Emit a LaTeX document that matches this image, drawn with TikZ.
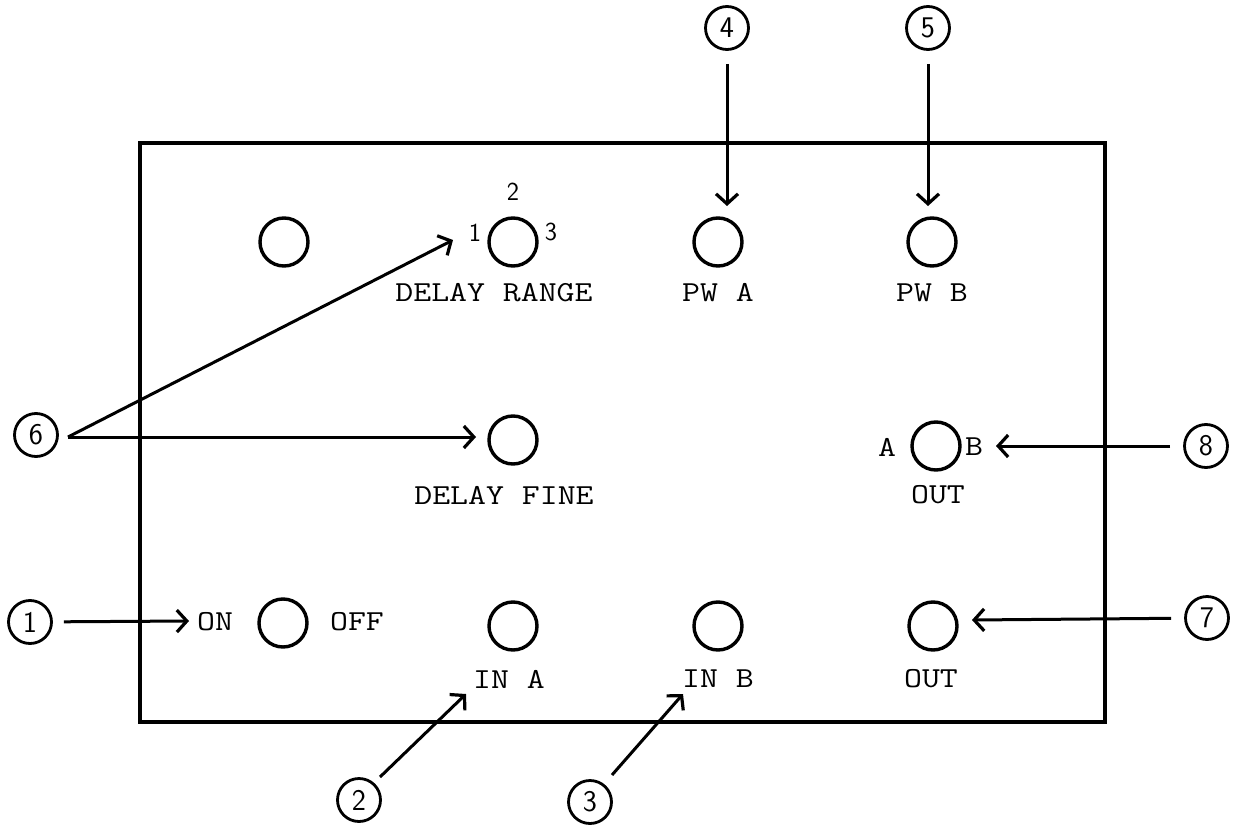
\documentclass[tikz,border=0pt]{standalone}
\usepackage{fontspec}
\usetikzlibrary{arrows.meta}
\newcommand{\lbl}[1]{\scalebox{1.2}[1]{#1}}
\begin{document}
\begin{tikzpicture}[x=1pt,y=-1pt,
 knob/.style={circle,draw,line width=3.4pt,minimum size=48pt,inner sep=0pt},
 callout/.style={circle,draw,line width=2.8pt,minimum size=43pt,inner sep=0pt,font=\sffamily\fontsize{30}{30}\selectfont},
 lab/.style={font=\ttfamily\fontsize{29}{29}\selectfont,inner sep=0pt},
 num/.style={font=\sffamily\fontsize{26}{26}\selectfont,inner sep=0pt},
 arr/.style={line width=3pt,-{Straight Barb[length=10pt,width=22pt,line width=3.2pt]}}]
\useasboundingbox (0,0) rectangle (1235,827);
% panel
\draw[line width=3.2pt] (140,143) rectangle (1105,722);
% knobs
\node[knob] (k0) at (284,242) {};
\node[knob] (kdr) at (513,242) {};
\node[knob] (kpa) at (718,242) {};
\node[knob] (kpb) at (932,242) {};
\node[knob] (kdf) at (513,440) {};
\node[knob] (kab) at (936,446) {};
\node[knob] (kon) at (283,623) {};
\node[knob] (kia) at (513,626) {};
\node[knob] (kib) at (718,626) {};
\node[knob] (kout) at (933,626) {};
% labels
\node[num] (n2) at (513,192) {2};
\node[num] (n1) at (475,233) {1};
\node[num] (n3) at (551,232) {3};
\node[lab] (ldr) at (494,293) {\lbl{DELAY RANGE}};
\node[lab] (lpa) at (718,293) {\lbl{PW A}};
\node[lab] (lpb) at (932,293) {\lbl{PW B}};
\node[lab] (ldf) at (504,495) {\lbl{DELAY FINE}};
\node[lab] (lo1) at (938,495) {\lbl{OUT}};
\node[lab] (la) at (887,447) {\lbl{A}};
\node[lab] (lb) at (974,447) {\lbl{B}};
\node[lab] (lon) at (215,622) {\lbl{ON}};
\node[lab] (loff) at (357,622) {\lbl{OFF}};
\node[lab] (lia) at (509,679) {\lbl{IN A}};
\node[lab] (lib) at (718,679) {\lbl{IN B}};
\node[lab] (lo2) at (931,679) {\lbl{OUT}};
% callouts
\node[callout] (c1) at (30,622) {1};
\node[callout] (c2) at (359,800) {2};
\node[callout] (c3) at (590,802) {3};
\node[callout] (c4) at (727,28) {4};
\node[callout] (c5) at (928,28) {5};
\node[callout] (c6) at (36,435) {6};
\node[callout] (c7) at (1207,618) {7};
\node[callout] (c8) at (1206,446) {8};
% arrow tips
\coordinate (t1) at (189,621);
\coordinate (t2) at (466,694);
\coordinate (t3) at (683,694);
\coordinate (t4) at (727,206);
\coordinate (t5) at (928,206);
\coordinate (t6a) at (453,240);
\coordinate (t6b) at (476,437);
\coordinate (t7) at (972,620);
\coordinate (t8) at (996,446);
\coordinate (s6) at (68,437);
% arrows
\draw[arr,shorten <=11pt] (c1) -- (t1);
\draw[arr] (380,777) -- (t2);
\draw[arr] (612,775) -- (t3);
\draw[arr,shorten <=13pt] (c4) -- (t4);
\draw[arr,shorten <=13pt] (c5) -- (t5);
\draw[arr] (s6) -- (t6a);
\draw[arr] (s6) -- (t6b);
\draw[arr,shorten <=13pt] (c7) -- (t7);
\draw[arr,shorten <=13pt] (c8) -- (t8);
\end{tikzpicture}
\end{document}
